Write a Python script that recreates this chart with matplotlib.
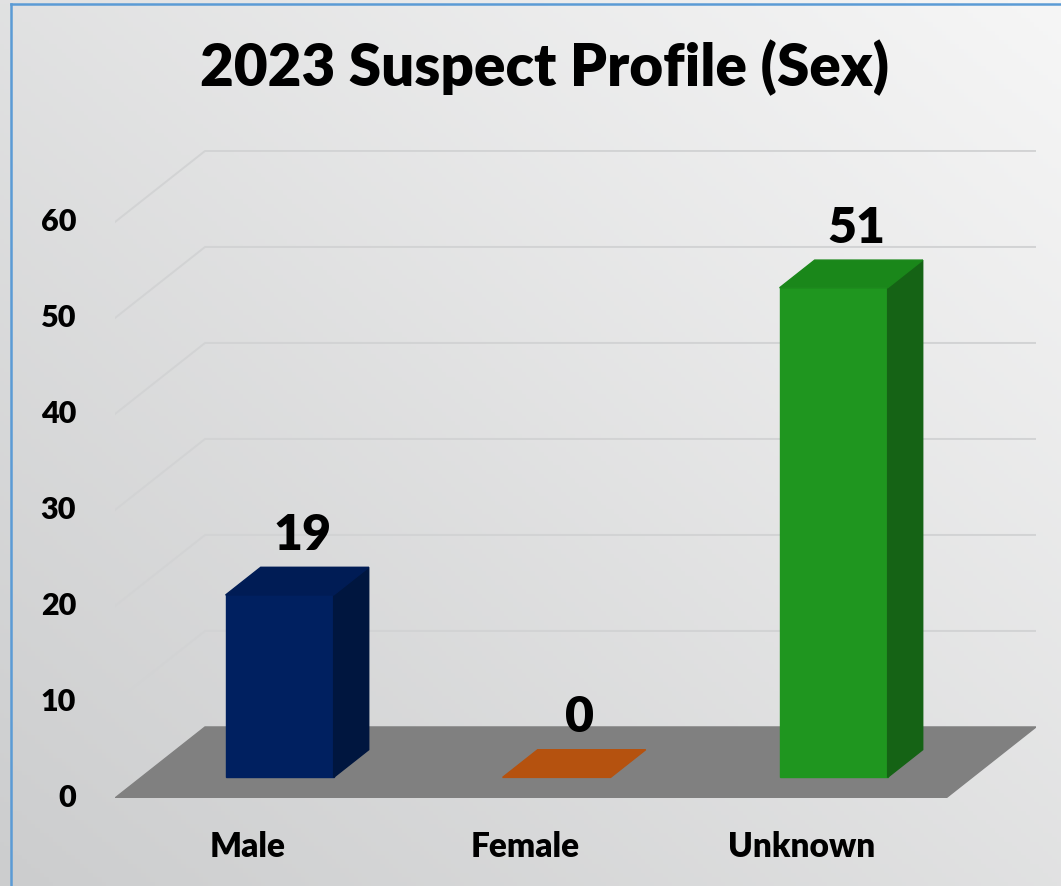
import matplotlib.pyplot as plt
import numpy as np

categories = ['Male', 'Female', 'Unknown']
values = [19, 0, 51]
front_colors = ['#002060', '#C55A11', '#1F961F']
side_colors = ['#00163F', '#8F400B', '#156315']
top_colors = ['#001C55', '#B5520F', '#1A871A']
yticks = [0, 10, 20, 30, 40, 50, 60]
title = '2023 Suspect Profile (Sex)'

# fake 3d: depth offset in data units
DX = 0.325
DY = 7.4
d0, d1 = 0.29, 0.68
hw = 0.195

plt.rcParams['font.family'] = ['Lato', 'DejaVu Sans']
WEIGHT = 'heavy'

fig = plt.figure(figsize=(10.61, 8.86), dpi=100)

# background gradient + border
bg = fig.add_axes([0, 0, 1, 1])
h, w = 200, 240
xx, yy = np.meshgrid(np.linspace(0, 1, w), np.linspace(0, 1, h))
t = (xx + (1 - yy)) / 2
dark = np.array([0xCC, 0xCD, 0xCE]) / 255
light = np.array([0xF6, 0xF6, 0xF6]) / 255
img = dark + (light - dark) * t[..., None]
bg.imshow(img, extent=[0, 1, 0, 1], aspect='auto', origin='upper')
bg.plot([11 / 1061, 11 / 1061], [0, 1 - 4 / 886], color='#5B9BD5', lw=1.8)
bg.plot([11 / 1061, 1], [1 - 4 / 886, 1 - 4 / 886], color='#5B9BD5', lw=1.8)
bg.set_xlim(0, 1)
bg.set_ylim(0, 1)
bg.axis('off')

ax = fig.add_axes([115 / 1061, 88 / 886, 921 / 1061, 648 / 886])
ax.set_xlim(-0.5, 2.5 + DX)
ax.set_ylim(0, 67.5)
ax.axis('off')

# gridlines on left wall and back wall
for v in yticks[1:]:
    ax.plot([-0.5, -0.5 + DX, 2.5 + DX], [v, v + DY, v + DY], color='#D2D3D4', lw=1.4, zorder=1)

# floor
ax.fill([-0.5, 2.5, 2.5 + DX, -0.5 + DX], [0, 0, DY, DY], color='#808080', zorder=2)

x = np.arange(len(categories))
for i, v in enumerate(values):
    l0, r0 = x[i] - hw + d0 * DX, x[i] + hw + d0 * DX
    l1, r1 = x[i] - hw + d1 * DX, x[i] + hw + d1 * DX
    y0, y1 = d0 * DY, d1 * DY
    if v > 0:
        ax.fill([l0, r0, r0, l0], [y0, y0, v + y0, v + y0], color=front_colors[i], zorder=3)
        ax.fill([r0, r1, r1, r0], [y0, y1, v + y1, v + y0], color=side_colors[i], zorder=3)
    ax.fill([l0, r0, r1, l1], [v + y0, v + y0, v + y1, v + y1], color=top_colors[i], zorder=4)
    ax.text(x[i] + (d0 + d1) / 2 * DX + 0.02, v + y1 + 1.8, str(v), ha='center', va='baseline',
            fontsize=36, fontweight=WEIGHT, color='black', zorder=5)

for v in yticks:
    ax.text(-0.5 - 0.14, v, str(v), ha='right', va='center', fontsize=22, fontweight=WEIGHT, clip_on=False)

for i, c in enumerate(categories):
    ax.text(x[i] - 0.02, -5.1, c, ha='center', va='center', fontsize=24, fontweight=WEIGHT, clip_on=False)

fig.text(545 / 1061, 1 - 68 / 886, title, ha='center', va='center', fontsize=42, fontweight=WEIGHT)

fig.savefig('out.png', dpi=100)
